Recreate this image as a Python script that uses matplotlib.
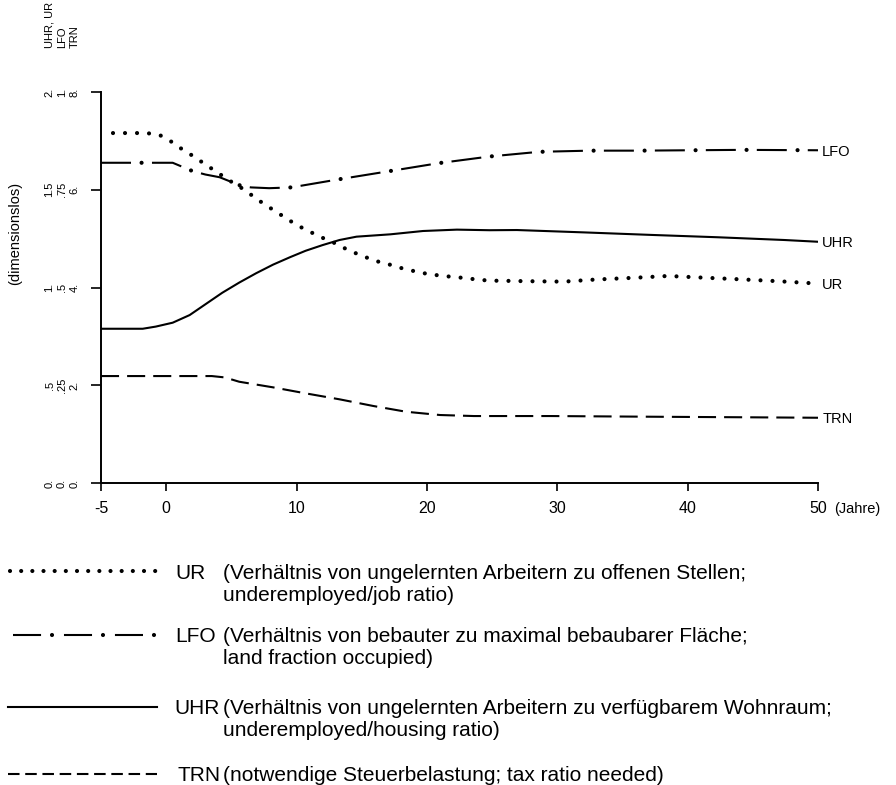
import matplotlib
matplotlib.use("Agg")
import matplotlib.pyplot as plt
from matplotlib.transforms import blended_transform_factory, ScaledTranslation

plt.rcParams["font.family"] = ["Liberation Sans", "DejaVu Sans"]
plt.rcParams["lines.scale_dashes"] = False

# --- series (time in years) ---------------------------------------------
# UR: underemployed / job ratio (scale 0..2)
ur_years = [-5, -1.5, -0.5, 0.5, 1, 2, 3, 4, 5, 6, 7, 8, 9, 10, 11, 12, 13, 14,
            15, 16, 17, 18, 19, 20, 21, 22, 23, 24, 25, 28, 30.5, 33, 36, 38.5,
            41, 44, 47, 50]
ur = [1.79, 1.79, 1.78, 1.742, 1.717, 1.675, 1.63, 1.585, 1.541, 1.50, 1.45,
      1.406, 1.363, 1.32, 1.286, 1.254, 1.225, 1.19, 1.163, 1.137, 1.12, 1.10,
      1.084, 1.07, 1.061, 1.054, 1.048, 1.039, 1.035, 1.032, 1.030, 1.041,
      1.050, 1.059, 1.051, 1.042, 1.032, 1.02]

# UHR: underemployed / housing ratio (scale 0..2)
uhr_years = [-5, -1.8, -0.8, 0.5, 1.8, 3.05, 4.3, 5.6, 6.9, 8.2, 9.5, 10.7, 12,
             13.3, 14.6, 17.2, 19.7, 22.3, 24.8, 26.9, 32, 37.2, 42.3, 47.4, 50]
uhr = [0.789, 0.789, 0.80, 0.82, 0.859, 0.916, 0.973, 1.025, 1.073, 1.117,
       1.155, 1.188, 1.217, 1.243, 1.26, 1.272, 1.289, 1.296, 1.293, 1.294,
       1.282, 1.269, 1.257, 1.243, 1.234]

# LFO: land fraction occupied (scale 0..1)
lfo_years = [-5, 0.5, 1, 2, 3, 4.1, 4.85, 5.75, 6.5, 7.9, 9.6, 13.3, 17.2,
             20.9, 24.8, 28.6, 32.5, 36.2, 40.2, 44.2, 50]
lfo = [0.819, 0.819, 0.812, 0.798, 0.789, 0.782, 0.772, 0.760, 0.756, 0.754,
       0.756, 0.777, 0.798, 0.818, 0.835, 0.847, 0.850, 0.850, 0.851, 0.852,
       0.851]

# TRN: tax ratio needed (scale 0..8)
trn_years = [-5, 3.5, 4.5, 5.6, 8.2, 10.7, 13.3, 15.9, 18.4, 21, 23.6, 29.5,
             37.2, 44.8, 50]
trn = [2.188, 2.188, 2.16, 2.072, 1.957, 1.834, 1.712, 1.575, 1.458, 1.391,
       1.37, 1.37, 1.356, 1.344, 1.335]

# --- axis scales ----------------------------------------------------------
x_ticks = [-5, 0, 10, 20, 30, 40, 50]
x_ticklabels = ["-5", "0", "10", "20", "30", "40", "50"]
ur_uhr_ticks = [0, 0.5, 1.0, 1.5, 2.0]
ur_uhr_labels = ["0.", ".5", "1.", "1.5", "2."]
lfo_ticks = [0, 0.25, 0.5, 0.75, 1.0]
lfo_labels = ["0.", ".25", ".5", ".75", "1."]
trn_ticks = [0, 2, 4, 6, 8]
trn_labels = ["0.", "2.", "4.", "6.", "8."]

legend_keys = ["UR", "LFO", "UHR", "TRN"]
legend_lines = [
    ["(Verhältnis von ungelernten Arbeitern zu offenen Stellen;",
     "underemployed/job ratio)"],
    ["(Verhältnis von bebauter zu maximal bebaubarer Fläche;",
     "land fraction occupied)"],
    ["(Verhältnis von ungelernten Arbeitern zu verfügbarem Wohnraum;",
     "underemployed/housing ratio)"],
    ["(notwendige Steuerbelastung; tax ratio needed)"],
]

W, H = 896, 785
fig = plt.figure(figsize=(W / 100, H / 100), dpi=100)
fig.patch.set_facecolor("white")

L, R, B, T = 101, 818, 483, 92
ax = fig.add_axes([L / W, 1 - B / H, (R - L) / W, (B - T) / H])
ax_u = ax.twinx()
ax_l = ax.twinx()
for a in (ax_u, ax_l):
    a.axis("off")

ax.set_xlim(-5, 50)
ax.set_ylim(0, 8)
ax_u.set_ylim(0, 2)
ax_l.set_ylim(0, 1)

for s in ("top", "right"):
    ax.spines[s].set_visible(False)
for s in ("left", "bottom"):
    ax.spines[s].set_linewidth(1.4)

ax.set_xticks(x_ticks)
ax.set_xticklabels(x_ticklabels)
ax.tick_params(axis="x", length=5.8, width=1.2, pad=7, labelsize=11.5)
ax.set_yticks(trn_ticks)
ax.set_yticklabels([])
ax.tick_params(axis="y", length=7.2, width=1.2)

# three columns of rotated tick labels, one per scale
columns = [
    (ax_u, ur_uhr_ticks, ur_uhr_labels, 51.5, "UHR, UR"),
    (ax_l, lfo_ticks, lfo_labels, 39, "LFO"),
    (ax, trn_ticks, trn_labels, 26.5, "TRN"),
]
for axis, ticks, labels, dx, head in columns:
    shift = ScaledTranslation(-dx / 100, 0, fig.dpi_scale_trans)
    tr = blended_transform_factory(ax.transAxes, axis.transData) + shift
    for v, s in zip(ticks, labels):
        ax.text(0, v, s, transform=tr, rotation=90, ha="center", va="center",
                fontsize=8, clip_on=False)
    tr_head = ax.transAxes + shift + ScaledTranslation(0, 44 / 100, fig.dpi_scale_trans)
    ax.text(0, 1, head, transform=tr_head, rotation=90, ha="center",
            va="bottom", fontsize=8, clip_on=False)

fig.text(15 / W, 1 - 233 / H, "(dimensionslos)", rotation=90, ha="center",
         va="center", fontsize=10.5)
fig.text(834 / W, 1 - 509 / H, "(Jahre)", ha="left", va="center", fontsize=10.5)

# curves
ax.plot(trn_years, trn, color="black", lw=1.5, linestyle=(0, (13, 5.8)))
ax_u.plot(uhr_years, uhr, color="black", lw=1.5)
ax_u.plot(ur_years, ur, color="black", lw=3.0,
          linestyle=(0.01, (0.01, 8.64)), dash_capstyle="round")
ax_l.plot(lfo_years, lfo, color="black", lw=1.5, linestyle=(0, (21.6, 15.1)))
ax_l.plot(lfo_years, lfo, color="black", lw=3.0,
          linestyle=(7.5, (0.01, 36.7)), dash_capstyle="round")

# curve names at the right end
for axis, xs, ys, name in ((ax_l, lfo_years, lfo, "LFO"),
                           (ax_u, uhr_years, uhr, "UHR"),
                           (ax_u, ur_years, ur, "UR"),
                           (ax, trn_years, trn, "TRN")):
    axis.annotate(name, xy=(xs[-1], ys[-1]), xytext=(3, 0),
                  textcoords="offset points", ha="left", va="center_baseline",
                  fontsize=10.5, annotation_clip=False)

# legend block below the chart
lg = fig.add_axes([0, 0, 1, 1])
lg.set_xlim(0, W)
lg.set_ylim(H, 0)
lg.axis("off")

row_line_y = [571, 635, 707, 774]
row_base_y = [579, 642, 714, 781]
line_gap = 22
key_x = [175, 175, 174, 177]
desc_x = 223

lg.plot([10, 156], [row_line_y[0]] * 2, color="black", lw=3.0,
        linestyle=(0, (0.01, 8.03)), dash_capstyle="round")
lg.plot([13, 143], [row_line_y[1]] * 2, color="black", lw=1.5,
        linestyle=(0, (20.2, 16.5)))
lg.plot([52, 156], [row_line_y[1]] * 2, color="black", lw=3.0,
        linestyle=(0, (0.01, 36.7)), dash_capstyle="round")
lg.plot([8, 157], [row_line_y[2]] * 2, color="black", lw=1.5)
lg.plot([8, 157], [row_line_y[3]] * 2, color="black", lw=1.5,
        linestyle=(0, (8.3, 4.1)))

for i, key in enumerate(legend_keys):
    lg.text(key_x[i], row_base_y[i], key, ha="left", va="baseline", fontsize=15)
    for j, line in enumerate(legend_lines[i]):
        lg.text(desc_x, row_base_y[i] + j * line_gap, line, ha="left",
                va="baseline", fontsize=15)

fig.savefig("out.png", dpi=100, facecolor="white")
